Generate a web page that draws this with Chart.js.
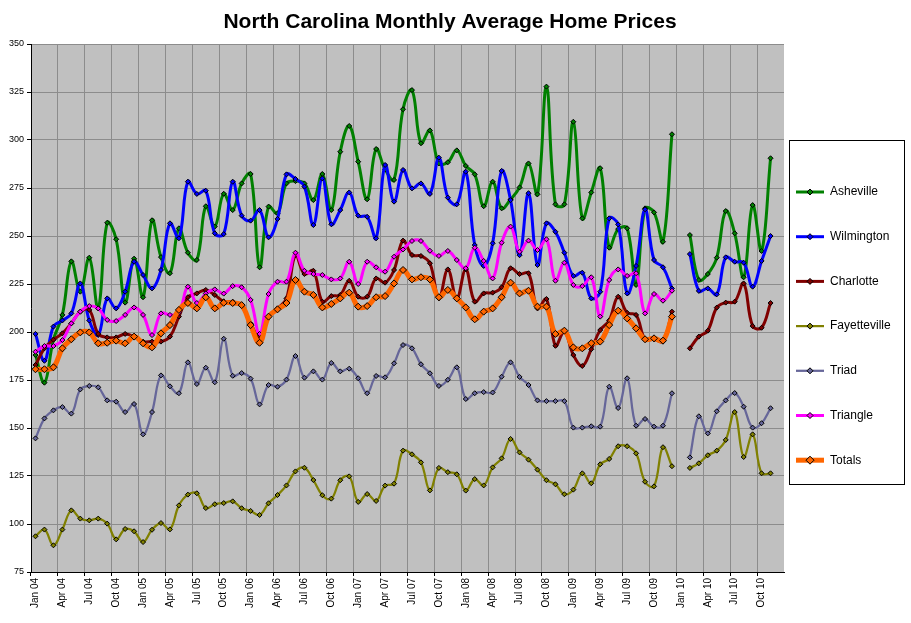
<!DOCTYPE html>
<html>
<head>
<meta charset="utf-8">
<title>North Carolina Monthly Average Home Prices</title>
<script src="https://cdn.jsdelivr.net/npm/chart.js@4.4.1/dist/chart.umd.min.js"></script>
<style>
  body { margin: 0; background: #fff; }
  canvas { display: block; }
</style>
</head>
<body>
<canvas id="homeChart" width="911" height="623"></canvas>
<script>
// Month labels, Jan 04 - Dec 10
const monthNames = ['Jan', 'Feb', 'Mar', 'Apr', 'May', 'Jun', 'Jul', 'Aug', 'Sep', 'Oct', 'Nov', 'Dec'];
const years = ['04', '05', '06', '07', '08', '09', '10'];
const labels = [];
years.forEach(yr => monthNames.forEach(m => labels.push(m + ' ' + yr)));

const yTicks = [75, 100, 125, 150, 175, 200, 225, 250, 275, 300, 325, 350];

// values in $1000s, null = no data
const asheville = [188, 173.6, 196, 208.9, 236.8, 221, 238.7, 212.3, 256.9, 248.3, 215.3, 238.2,
  218.1, 258.2, 239, 230.6, 254, 241.3, 237.5, 265.5, 254.9, 272, 263.5, 277.4,
  282.3, 233.7, 265.3, 261.8, 277.4, 278.6, 277.4, 268.7, 282.3, 263.5, 293.9, 307.3,
  288.7, 269.1, 295.3, 284.7, 279.2, 316, 326, 298.3, 305, 287.8, 288.4, 294.6,
  286.5, 282.1, 265.5, 278.3, 264.4, 269.1, 275.3, 287.8, 271.7, 327.8, 266.5, 266.5,
  309.5, 259.2, 272.7, 285.3, 243.9, 253.6, 254, 224.5, 264.4, 262.3, 247, 303,
  null, 250.5, 227.1, 230.2, 238.7, 263, 251.4, 228.5, 266.1, 242.2, 290.5, null];

const wilmington = [199, 185, 202.8, 206, 209.7, 225.3, 206, 198.4, 217.5, 212.3, 221, 236.6,
  229.7, 222.7, 232.3, 256.6, 248.8, 278.3, 271.9, 273.6, 251.4, 251, 278.3, 260.6,
  258, 263.5, 249.3, 258.9, 282.1, 279.7, 275.7, 255.7, 280, 256.1, 263.5, 272.7,
  260.6, 260, 248.8, 287, 267.9, 284.4, 274.8, 277.4, 271.9, 290.8, 270, 266.5,
  283.5, 245.3, 234.4, 246.2, 283.9, 268.7, 240, 272.3, 234.9, 256.6, 252.2, 241.3,
  229.2, 230.9, 217.5, 221, 259.2, 256, 220.1, 234.4, 263.9, 237.5, 233.7, 222.7,
  null, 240.6, 221.4, 222.7, 219.6, 238.9, 236.6, 236.1, 223.6, 237, 250, null];

const charlotte = [182.8, 191.5, 196, 199.3, 204.5, 210.6, 211.5, 199, 197.2, 197.2, 199, 197.6,
  195, 195, 195, 197.6, 208, 218.1, 220.1, 221.9, 219.3, 216, 215.8, 213.5,
  204.5, 197.6, 208, 212.3, 217.5, 240.1, 230.2, 231.9, 215.8, 218.7, 219.3, 226.7,
  218.4, 218.4, 227.9, 225.7, 232.3, 247.6, 240.1, 239.6, 235.8, 217.5, 232.6, 217.5,
  232.6, 215.8, 220.1, 220.5, 223.3, 233.2, 230.2, 230.6, 212.3, 217.2, 192.8, 200.2,
  188, 182.3, 191, 201, 206, 218.4, 210, 208.9, 196.2, 196.2, 195, 210.6,
  null, 191.5, 197.6, 200.7, 212.7, 215.3, 215.8, 225.3, 203.1, 202.2, 215.1, null];

const fayetteville = [93.6, 97.1, 88.9, 97.1, 107.1, 102.8, 101.9, 102.8, 100.2, 92, 97.4, 96.2,
  90.6, 97, 100.5, 97.2, 109.7, 115.3, 116, 108.3, 110.3, 110.9, 111.8, 108.2,
  106.8, 104.7, 110.8, 115.1, 120.1, 127.4, 129.3, 122.9, 115, 113.2, 122.8, 124.8,
  111.5, 115.6, 112, 120, 121, 138.2, 136.3, 132.1, 117.5, 129.2, 127, 125.9,
  117.4, 123.4, 120.1, 129.5, 134.2, 144.3, 137.3, 133.5, 128.3, 122.8, 120.7, 115.5,
  117.9, 126.4, 121.2, 131.1, 133.9, 140.5, 140.5, 136.8, 122, 119.6, 140, 130.1,
  null, 129.2, 131.6, 135.8, 138.2, 143.8, 158.3, 134.9, 146.7, 126.4, 126.4, null];

const triad = [144.6, 155, 159.2, 160.9, 157.5, 170.1, 171.9, 171.2, 164.4, 163.7, 158.3, 162.5,
  146.7, 158.3, 177.4, 171.7, 168.1, 184.2, 172.9, 181.4, 173.8, 196.5, 177.2, 178.6,
  175.7, 162.3, 172.4, 171.5, 175.2, 187.5, 176.2, 179.5, 175.2, 183.9, 179.5, 180.9,
  175.9, 168.1, 177.1, 176.4, 183.7, 193.2, 191.5, 183.2, 178.5, 171.9, 175.1, 181.6,
  165.1, 168.1, 168.7, 168.5, 176.7, 184.2, 176.6, 172.4, 164.4, 164, 164, 164,
  150.2, 150.2, 150.9, 150.7, 171.5, 160.4, 175.9, 151.2, 154.7, 150.7, 151.2, 168.1,
  null, 134.7, 156.1, 147.2, 158.7, 164.4, 168.2, 161.1, 150.2, 152.5, 160.3, null];

const triangle = [189.7, 192.7, 192.7, 195.8, 204.5, 210.6, 213.5, 212.3, 206.3, 205.7, 208.9, 212.8,
  208.9, 198.4, 209.7, 208.9, 210, 223.6, 215.1, 220.1, 222.2, 220, 223.9, 223.3,
  216.7, 199, 219.8, 226.2, 226.2, 241.3, 231.9, 230.2, 229.7, 227.4, 227.9, 236.6,
  225, 236.6, 233.7, 231.4, 239.2, 243, 247.4, 247.4, 242.3, 239.6, 242.2, 237.5,
  233.2, 243.9, 237, 227.9, 246.5, 254.9, 241.8, 247.6, 242.7, 248.3, 226.7, 236.1,
  224.5, 223.9, 228.5, 208, 227.1, 232.6, 229.2, 230.6, 209.7, 219.8, 216.3, 221.5,
  null, null, null, null, null, null, null, null, null, null, null, null];

const totals = [180.6, 180.6, 181.6, 191.5, 196.2, 199.8, 199.8, 194.1, 194.4, 195.5, 194.1, 197.6,
  194.1, 192, 199.3, 203.6, 211.5, 215.1, 212.3, 218.1, 212.3, 215.2, 215.1, 214,
  203.6, 194.4, 208, 211.8, 215.1, 227.1, 221, 219.3, 212.8, 214.6, 217.5, 220.5,
  213.2, 213.5, 218.1, 218.7, 225.3, 232.3, 227.4, 228.5, 227.4, 218.1, 221.9, 217.5,
  212.8, 206.6, 210.6, 212.3, 218.1, 225.7, 220.1, 221.5, 213.2, 213.2, 199, 200.7,
  192, 191.5, 194.2, 195, 203.6, 211.1, 207.1, 201.9, 196.2, 196.7, 195.5, 208,
  null, null, null, null, null, null, null, null, null, null, null, null];

const seriesNames = ['Asheville', 'Wilmington', 'Charlotte', 'Fayetteville', 'Triad', 'Triangle', 'Totals'];
const seriesData = [asheville, wilmington, charlotte, fayetteville, triad, triangle, totals];
const seriesColors = ['#008000', '#0000FF', '#800000', '#808000', '#666699', '#FF00FF', '#FF6600'];
const lineWidths = [3, 3, 3, 2.25, 2.25, 3, 5];
const markerSizes = [2.5, 2.5, 2.5, 2.5, 2.5, 2.5, 3.5];

const FONT = 'Arial, "Liberation Sans", sans-serif';
const GRID = '#8c8c8c';

// grey plot area like Excel
const plotBackground = {
    id: 'plotBackground',
    beforeDraw(chart) {
        const a = chart.chartArea;
        const ctx = chart.ctx;
        ctx.save();
        ctx.fillStyle = '#C0C0C0';
        ctx.fillRect(a.left, a.top, a.right - a.left, a.bottom - a.top);
        ctx.restore();
    }
};

// title + boxed legend on the right
const titleAndLegend = {
    id: 'titleAndLegend',
    afterDraw(chart) {
        const ctx = chart.ctx;
        ctx.save();
        ctx.fillStyle = '#000';
        ctx.font = 'bold 21px ' + FONT;
        ctx.textAlign = 'center';
        ctx.textBaseline = 'middle';
        ctx.fillText('North Carolina Monthly Average Home Prices', 450, 22);

        ctx.fillStyle = '#fff';
        ctx.fillRect(789.5, 140.5, 115, 344);
        ctx.strokeStyle = '#000';
        ctx.lineWidth = 1;
        ctx.strokeRect(789.5, 140.5, 115, 344);

        ctx.font = '12px ' + FONT;
        ctx.textAlign = 'left';
        chart.data.datasets.forEach((ds, i) => {
            const y = 192 + i * 44.7;
            ctx.strokeStyle = ds.borderColor;
            ctx.lineWidth = ds.borderWidth;
            ctx.beginPath();
            ctx.moveTo(796, y);
            ctx.lineTo(824, y);
            ctx.stroke();
            const r = ds.pointRadius + 0.5;
            ctx.beginPath();
            ctx.moveTo(810, y - r);
            ctx.lineTo(810 + r, y);
            ctx.lineTo(810, y + r);
            ctx.lineTo(810 - r, y);
            ctx.closePath();
            ctx.fillStyle = ds.borderColor;
            ctx.fill();
            ctx.strokeStyle = '#000';
            ctx.lineWidth = 1;
            ctx.stroke();
            ctx.fillStyle = '#000';
            ctx.fillText(ds.label, 830, y);
        });
        ctx.restore();
    }
};

const datasets = seriesNames.map((name, i) => ({
    label: name,
    data: seriesData[i],
    borderColor: seriesColors[i],
    backgroundColor: seriesColors[i],
    borderWidth: lineWidths[i],
    pointStyle: 'rectRot',
    pointRadius: markerSizes[i],
    pointBackgroundColor: seriesColors[i],
    pointBorderColor: '#000',
    pointBorderWidth: 1,
    tension: 0.4,
    spanGaps: false,
    order: seriesNames.length - i
}));

new Chart(document.getElementById('homeChart'), {
    type: 'line',
    data: { labels: labels, datasets: datasets },
    options: {
        responsive: false,
        animation: false,
        layout: { padding: { top: 44, right: 127, left: 0, bottom: 0 } },
        plugins: {
            legend: { display: false },
            tooltip: { enabled: false },
            title: { display: false }
        },
        scales: {
            x: {
                offset: true,
                grid: {
                    offset: true,
                    tickLength: 4,
                    color: c => (c.index % 3 === 0 && c.index > 0) ? GRID : 'rgba(0,0,0,0)',
                    tickColor: c => (c.index % 3 === 0) ? '#000' : 'rgba(0,0,0,0)'
                },
                border: { color: '#000', width: 1 },
                ticks: {
                    autoSkip: false,
                    minRotation: 90,
                    maxRotation: 90,
                    padding: 2,
                    color: '#000',
                    font: { family: FONT, size: 10 },
                    callback: (v, i) => i % 3 === 0 ? labels[i] : ''
                },
                afterFit: s => { s.height = 51; }
            },
            y: {
                min: 75,
                max: 350,
                afterBuildTicks: s => { s.ticks = yTicks.map(v => ({ value: v })); },
                grid: { color: GRID, tickLength: 4, tickColor: '#000' },
                border: { color: '#000', width: 1 },
                ticks: {
                    padding: 3,
                    color: '#000',
                    font: { family: FONT, size: 9 }
                },
                afterFit: s => { s.width = 31; }
            }
        }
    },
    plugins: [plotBackground, titleAndLegend]
});
</script>
</body>
</html>
